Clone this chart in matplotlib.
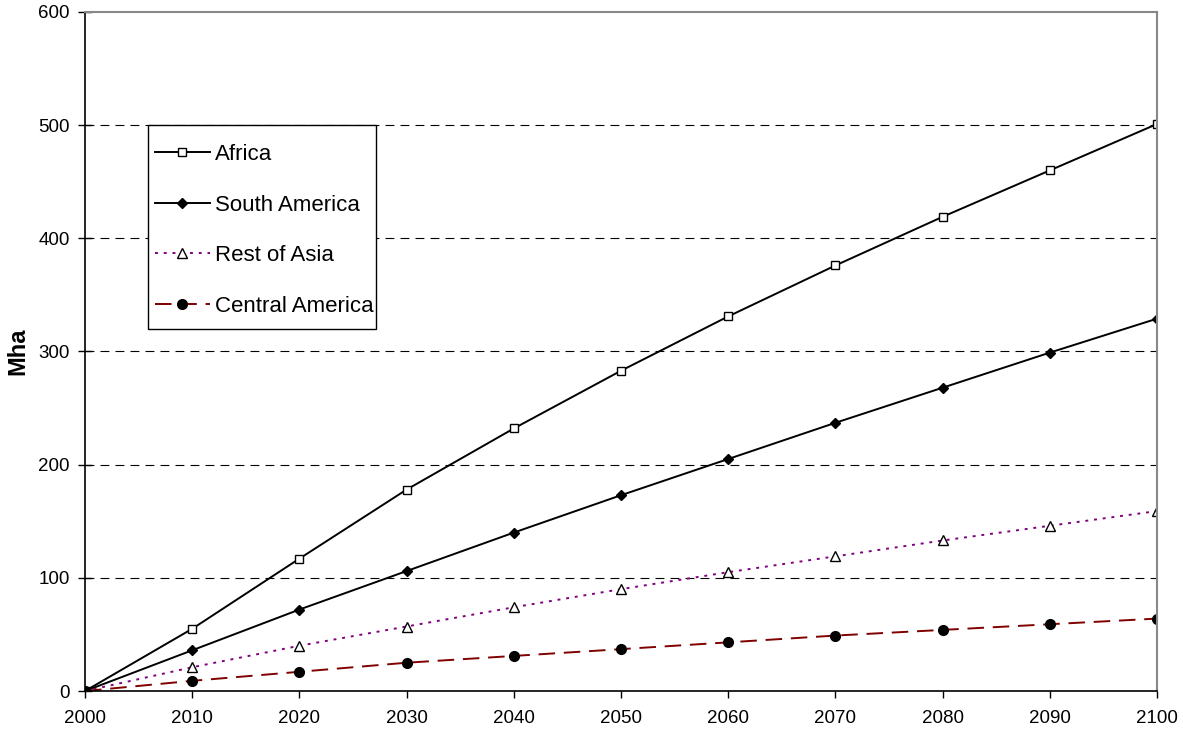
import matplotlib.pyplot as plt
from matplotlib.patches import Rectangle

plt.rcParams['font.family'] = ['Liberation Sans', 'DejaVu Sans']

years = [2000, 2010, 2020, 2030, 2040, 2050, 2060, 2070, 2080, 2090, 2100]
africa = [0, 55, 117, 178, 232, 283, 331, 376, 419, 460, 501]
south_america = [0, 36, 72, 106, 140, 173, 205, 237, 268, 299, 329]
rest_of_asia = [0, 21, 40, 57, 74, 90, 105, 119, 133, 146, 159]
central_america = [0, 9, 17, 25, 31, 37, 43, 49, 54, 59, 64]

fig = plt.figure(figsize=(11.83, 7.30), dpi=100)
ax = fig.add_axes([0.0719, 0.0534, 0.9061, 0.9302])

ax.plot(years, africa, color='black', lw=1.4, marker='s', ms=5.5,
        mfc='white', mec='black', mew=1.0, label='Africa')
ax.plot(years, south_america, color='black', lw=1.4, marker='D', ms=5.5,
        mfc='black', mec='black', label='South America')
ax.plot(years, rest_of_asia, color='#800080', lw=1.4, ls=(0, (1.5, 3)),
        marker='^', ms=6.5, mfc='white', mec='black', mew=1.0,
        label='Rest of Asia')
ax.plot(years, central_america, color='#800000', lw=1.4, ls=(0, (8.5, 4.5)),
        marker='o', ms=7, mfc='black', mec='black', label='Central America')

ax.set_xlim(2000, 2100)
ax.set_ylim(0, 600)
ax.set_xticks(years)
ax.set_yticks(range(0, 700, 100))
ax.tick_params(axis='x', labelsize=13.5, direction='out', length=5, width=1, pad=9)
ax.tick_params(axis='y', labelsize=13.5, direction='inout', length=10, width=1, pad=6)
for y in range(100, 600, 100):
    ax.axhline(y, color='black', lw=0.8, ls=(0, (8, 5.5)), zorder=0)

ax.spines['top'].set_color('#888888')
ax.spines['right'].set_color('#888888')
ax.spines['top'].set_linewidth(1.5)
ax.spines['right'].set_linewidth(1.5)
ax.spines['left'].set_linewidth(1.2)
ax.spines['bottom'].set_linewidth(1.2)
ax.set_ylabel('Mha', fontsize=17, fontweight='bold')
ax.yaxis.set_label_coords(-0.052, 0.5)

# legend box drawn separately so the padding can differ per side
ax.add_patch(Rectangle((0.0588, 0.5331), 0.2127, 0.3004, transform=ax.transAxes,
                       facecolor='white', edgecolor='black', lw=1.0, zorder=4))
leg = ax.legend(loc='upper left', bbox_to_anchor=(0.0513, 0.8277),
                fontsize=16, frameon=False, handlelength=2.45, labelspacing=1.33,
                borderpad=0.68, handletextpad=0.25, borderaxespad=0)
leg.set_zorder(5)

fig.savefig('out.png', dpi=100)
